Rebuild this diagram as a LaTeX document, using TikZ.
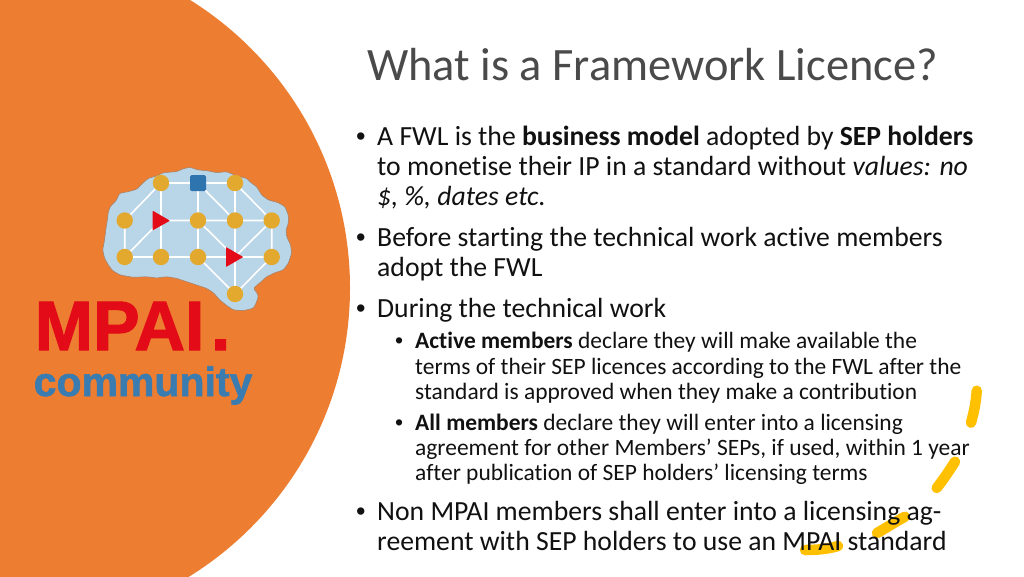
\documentclass[tikz,border=0pt]{standalone}
\usepackage{fontspec}
\setmainfont{Carlito}[Ligatures=NoCommon]
\newfontfamily\logofont{Liberation Sans}[BoldFeatures={FakeBold=1.6}]
\newfontfamily\bulletfont{Liberation Sans}
\definecolor{orangebg}{HTML}{ED7D31}
\definecolor{brainblue}{HTML}{B9D5E8}
\definecolor{dotgold}{HTML}{E3A92F}
\definecolor{sqblue}{HTML}{2E75B0}
\definecolor{logored}{HTML}{E30B17}
\definecolor{commblue}{HTML}{3A7CB0}
\definecolor{marker}{HTML}{FFC000}
\definecolor{titlegray}{HTML}{4A4A4A}
\definecolor{bodyblack}{HTML}{111111}
\tikzset{
  dot/.style={circle,minimum size=16.5pt,inner sep=0pt},
  sq/.style={rectangle,rounded corners=1.5pt,fill=sqblue,minimum size=16pt,inner sep=0pt},
  wire/.style={draw=white,line width=1.6pt},
  tri/.style={fill=logored},
  mainline/.style={anchor=base west,inner sep=0pt,text=bodyblack,font=\fontsize{27.7}{30}\selectfont},
  subline/.style={anchor=base west,inner sep=0pt,text=bodyblack,font=\fontsize{23.45}{26}\selectfont},
  bulletmain/.style={anchor=base west,inner sep=0pt,text=bodyblack,font=\bulletfont\fontsize{27}{30}\selectfont},
  bulletsub/.style={anchor=base west,inner sep=0pt,text=bodyblack,font=\bulletfont\fontsize{23}{26}\selectfont},
  stroke/.style={draw=marker,line width=10.5pt,line cap=round},
}
\begin{document}
\begin{tikzpicture}[x=1pt,y=-1pt]
\useasboundingbox (0,0) rectangle (1024,576);
\fill[white] (0,0) rectangle (1024,576);
\begin{scope}
\clip (0,0) rectangle (1024,576);
\fill[orangebg] (10.8,288) circle[radius=339.2pt];
\end{scope}
% brain
\begin{scope}[shift={(20,150)},x=0.3333pt,y=-0.3333pt]
\filldraw[fill=brainblue,draw=gray!70!orangebg,line width=.5pt,rounded corners=1.5pt]
 (262,212)--(265,185)--(272,168)--(290,150)--(298,130)--(325,125)--(350,118)--(368,100)--(385,85)--(410,78)--(430,68)--(470,65)--(490,56)--(510,52)--(535,60)--(560,62)--(590,68)--(620,65)--(650,78)--(680,85)--(695,100)--(710,110)--(725,135)--(745,150)--(775,158)--(795,170)--(805,195)--(805,220)--(798,240)--(800,260)--(812,285)--(815,310)--(805,340)--(790,360)--(765,368)--(740,380)--(720,398)--(700,415)--(712,430)--(715,440)--(708,460)--(700,475)--(670,482)--(640,480)--(618,465)--(600,450)--(580,428)--(560,415)--(530,405)--(500,395)--(470,385)--(440,380)--(410,384)--(380,380)--(340,382)--(300,375)--(278,362)--(265,345)--(254,325)--(248,300)--(252,280)--(255,260)--(258,235)--cycle;
\end{scope}
\coordinate (t1) at (161,220.5);
\coordinate (t2) at (235,257);
\node[dot] (a2) at (161,183) {};
\node[dot] (a3) at (198,183) {};
\node[dot] (a4) at (235,183) {};
\node[dot] (b1) at (124.7,220.5) {};
\node[dot] (b3) at (198,220.5) {};
\node[dot] (b4) at (235,220.5) {};
\node[dot] (b5) at (271.7,220.5) {};
\node[dot] (c1) at (124.7,257) {};
\node[dot] (c2) at (161,257) {};
\node[dot] (c3) at (198,257) {};
\node[dot] (c5) at (271.7,257) {};
\node[dot] (d4) at (235,294) {};
\draw[wire] (a2.center)--(a3.center)--(a4.center)
 (a2.center)--(b1.center)--(c1.center)--(c2.center)--(c3.center)--(t2)--(c5.center)
 (a2.center)--(c2.center)
 (c1.center)--(t1)--(b3.center)--(b4.center)--(b5.center)--(c5.center)
 (a3.center)--(c3.center)
 (a3.center)--(b4.center)
 (a4.center)--(d4.center)
 (a4.center)--(b5.center)--(t2)
 (b3.center)--(t2)
 (c3.center)--(d4.center)--(c5.center);
\foreach \n in {a2,a4,b1,b3,b4,b5,c1,c2,c3,c5,d4}{\fill[dotgold] (\n) circle[radius=8.2pt];}
\node[sq] (a3s) at (a3) {};
\fill[tri,rounded corners=.6pt] (152.7,210.7)--(170,220.7)--(152.7,230.3)--cycle;
\fill[tri,rounded corners=.6pt] (226,247)--(243.3,257)--(226,267)--cycle;
% logo text
\node[anchor=base west,inner sep=0pt,text=logored,font=\logofont\bfseries\fontsize{70}{70}\selectfont] (mpai) at (34.5,350) {MPAI\kern6.5pt.};
\node[anchor=base west,inner sep=0pt,text=commblue,font=\logofont\bfseries\fontsize{41}{40}\selectfont] (comm) at (33.5,396) {community};
% marker strokes
\draw[stroke] (976.7,390.7) .. controls (976,402) and (974,412) .. (971,422.7);
\draw[stroke] (955,461.7) .. controls (949,471) and (943,480) .. (936.7,488);
\draw[stroke] (905,516.7) .. controls (895,522) and (886,528) .. (877,533);
\draw[stroke] (805,550) .. controls (816,550) and (828,549) .. (838,546);
% title
\node[anchor=base west,inner sep=0pt,text=titlegray,font=\fontsize{46.4}{50}\selectfont] (title) at (367,80) {What is a Framework Licence?};
% body
\node[bulletmain] (m0b) at (356,145) {•};
\node[mainline] (m0) at (377,145) {A FWL is the \textbf{business model} adopted by \textbf{SEP holders}};
\node[mainline] (m1) at (377,175) {to monetise their IP in a standard without \textit{values: no}};
\node[mainline] (m2) at (377,205) {\textit{\$, \%, dates etc.}};
\node[bulletmain] (m3b) at (356,246) {•};
\node[mainline] (m3) at (377,246) {Before starting the technical work active members};
\node[mainline] (m4) at (377,276) {adopt the FWL};
\node[bulletmain] (m5b) at (356,317) {•};
\node[mainline] (m5) at (377,317) {During the technical work};
\node[bulletsub] (s0b) at (395,348.5) {•};
\node[subline] (s0) at (415,348.5) {\textbf{Active members} declare they will make available the};
\node[subline] (s1) at (415,374) {terms of their SEP licences according to the FWL after the};
\node[subline] (s2) at (415,399) {standard is approved when they make a contribution};
\node[bulletsub] (s3b) at (395,430.5) {•};
\node[subline] (s3) at (415,430.5) {\textbf{All members} declare they will enter into a licensing};
\node[subline] (s4) at (415,455.5) {agreement for other Members’ SEPs, if used, within 1 year};
\node[subline] (s5) at (415,480.5) {after publication of SEP holders’ licensing terms};
\node[bulletmain] (m6b) at (356,520) {•};
\node[mainline] (m6) at (377,520) {Non MPAI members shall enter into a licensing ag-};
\node[mainline] (m7) at (377,550) {reement with SEP holders to use an MPAI standard};
\end{tikzpicture}
\end{document}
